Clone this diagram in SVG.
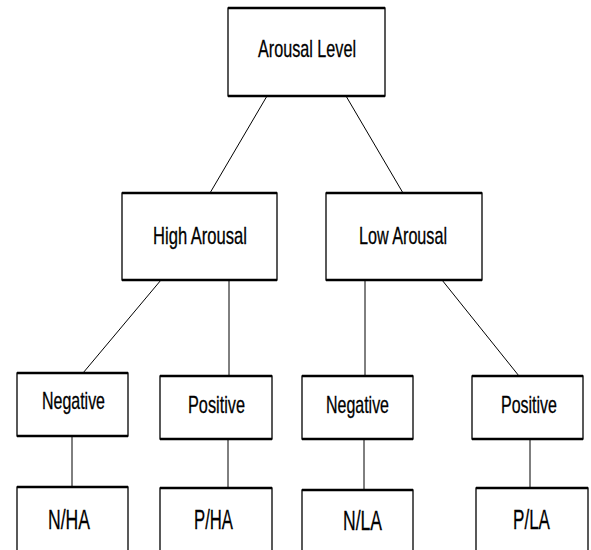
<svg xmlns="http://www.w3.org/2000/svg" width="591" height="550" viewBox="0 0 591 550">
<style>
.box{fill:#fff;stroke:#000;stroke-width:1.3}
.edge{stroke:#000;stroke-width:2.6}
.conn{stroke:#000;stroke-width:1;fill:none}
.t{font-family:"Liberation Sans",Arial,sans-serif;font-size:24px;fill:#000;stroke:#000;stroke-width:0.3}
.b{font-family:"Liberation Sans",Arial,sans-serif;font-size:28px;fill:#000;stroke:#000;stroke-width:0.3}
</style>
<rect width="591" height="550" fill="#fff"/>
<g id="connectors">
<line class="conn" x1="267" y1="96" x2="210" y2="193"/>
<line class="conn" x1="346" y1="96" x2="403" y2="193"/>
<line class="conn" x1="161" y1="280" x2="83" y2="373"/>
<line class="conn" x1="229" y1="280" x2="229" y2="376"/>
<line class="conn" x1="365" y1="280" x2="365" y2="376"/>
<line class="conn" x1="442" y1="280" x2="519" y2="376"/>
<line class="conn" x1="72" y1="436" x2="72" y2="487"/>
<line class="conn" x1="228" y1="439" x2="228" y2="488"/>
<line class="conn" x1="364" y1="439" x2="364" y2="490"/>
<line class="conn" x1="530" y1="439" x2="530" y2="488"/>
</g>
<g id="arousal-level">
<rect class="box" x="228" y="8" width="157" height="88"/>
<line class="edge" x1="228" y1="8" x2="385" y2="8"/>
<line class="edge" x1="228" y1="96" x2="385" y2="96"/>
<text class="t" x="258" y="57" textLength="98" lengthAdjust="spacingAndGlyphs">Arousal Level</text>
</g>
<g id="high-arousal">
<rect class="box" x="122" y="193" width="155" height="87"/>
<line class="edge" x1="122" y1="193" x2="277" y2="193"/>
<line class="edge" x1="122" y1="280" x2="277" y2="280"/>
<text class="t" x="153" y="244" textLength="94" lengthAdjust="spacingAndGlyphs">High Arousal</text>
</g>
<g id="low-arousal">
<rect class="box" x="326" y="193" width="156" height="87"/>
<line class="edge" x1="326" y1="193" x2="482" y2="193"/>
<line class="edge" x1="326" y1="280" x2="482" y2="280"/>
<text class="t" x="359" y="244" textLength="88" lengthAdjust="spacingAndGlyphs">Low Arousal</text>
</g>
<g id="negative-ha">
<rect class="box" x="17" y="373" width="111" height="63"/>
<line class="edge" x1="17" y1="373" x2="128" y2="373"/>
<line class="edge" x1="17" y1="436" x2="128" y2="436"/>
<text class="t" x="42" y="409" textLength="63" lengthAdjust="spacingAndGlyphs">Negative</text>
</g>
<g id="positive-ha">
<rect class="box" x="160" y="376" width="112" height="63"/>
<line class="edge" x1="160" y1="376" x2="272" y2="376"/>
<line class="edge" x1="160" y1="439" x2="272" y2="439"/>
<text class="t" x="188" y="413" textLength="57" lengthAdjust="spacingAndGlyphs">Positive</text>
</g>
<g id="negative-la">
<rect class="box" x="302" y="376" width="111" height="63"/>
<line class="edge" x1="302" y1="376" x2="413" y2="376"/>
<line class="edge" x1="302" y1="439" x2="413" y2="439"/>
<text class="t" x="326" y="413" textLength="63" lengthAdjust="spacingAndGlyphs">Negative</text>
</g>
<g id="positive-la">
<rect class="box" x="472" y="376" width="111" height="63"/>
<line class="edge" x1="472" y1="376" x2="583" y2="376"/>
<line class="edge" x1="472" y1="439" x2="583" y2="439"/>
<text class="t" x="501" y="413" textLength="56" lengthAdjust="spacingAndGlyphs">Positive</text>
</g>
<g id="n-ha">
<rect class="box" x="17" y="487" width="111" height="80"/>
<line class="edge" x1="17" y1="487" x2="128" y2="487"/>
<text class="b" x="48" y="529" textLength="42" lengthAdjust="spacingAndGlyphs">N/HA</text>
</g>
<g id="p-ha">
<rect class="box" x="160" y="488" width="112" height="80"/>
<line class="edge" x1="160" y1="488" x2="272" y2="488"/>
<text class="b" x="194" y="529" textLength="39" lengthAdjust="spacingAndGlyphs">P/HA</text>
</g>
<g id="n-la">
<rect class="box" x="302" y="490" width="111" height="80"/>
<line class="edge" x1="302" y1="490" x2="413" y2="490"/>
<text class="b" x="343" y="530" textLength="39" lengthAdjust="spacingAndGlyphs">N/LA</text>
</g>
<g id="p-la">
<rect class="box" x="476" y="488" width="112" height="80"/>
<line class="edge" x1="476" y1="488" x2="588" y2="488"/>
<text class="b" x="513" y="529" textLength="37" lengthAdjust="spacingAndGlyphs">P/LA</text>
</g>
</svg>
